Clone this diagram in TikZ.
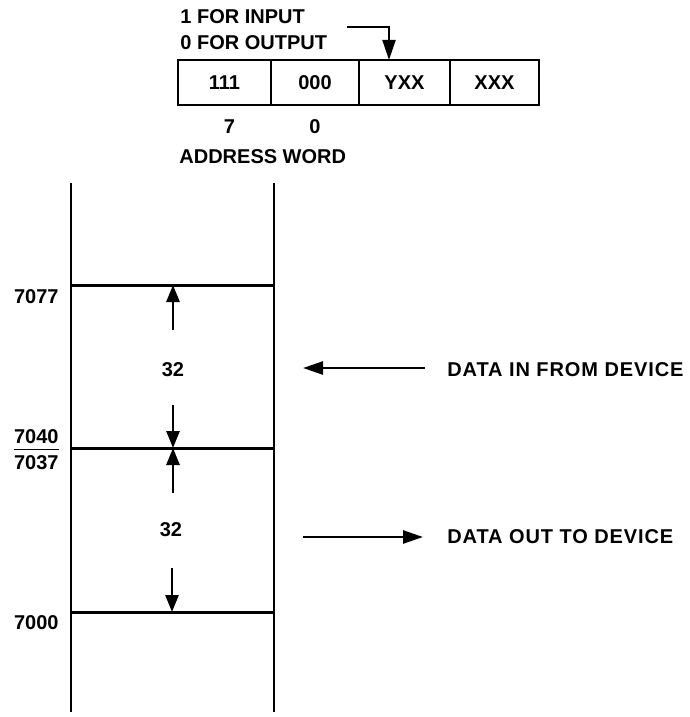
\documentclass[tikz,border=0pt]{standalone}
\usepackage{fontspec}
\setmainfont{Liberation Sans}
\usepackage{tikz}
\usetikzlibrary{arrows.meta, positioning}
\tikzset{
  cell/.style={
    draw,
    line width=1pt,
    minimum height=22.5pt,
    inner sep=0pt,
    outer sep=0pt,
    font=\fontsize{10}{12}\selectfont\bfseries
  },
  lbl/.style={inner sep=0pt, font=\fontsize{10}{12}\selectfont\bfseries},
  devlbl/.style={lbl, font=\fontsize{10}{12}\selectfont\bfseries\addfontfeature{LetterSpace=4.5}},
  wall/.style={line width=1.3pt},
  rung/.style={line width=1.5pt},
  arr/.style={-{Triangle[length=8.5pt,width=6.5pt]}, line width=1.4pt},
  arrdev/.style={-{Triangle[length=10pt,width=6.5pt]}, line width=1.3pt},
  arrthin/.style={-{Triangle[length=10pt,width=6.5pt]}, line width=1pt}
}

\begin{document}
\begin{tikzpicture}[x=0.5pt, y=-0.5pt]
\useasboundingbox (0,0) rectangle (690,717);

% Address word
\node[cell, minimum width=46.5pt] (c1) at (224.5,82.5) {111};
\node[cell, minimum width=44pt, right=0pt of c1] (c2) {000};
\node[cell, minimum width=45.5pt, right=0pt of c2] (c3) {YXX};
\node[cell, minimum width=44.5pt, right=0pt of c3] (c4) {XXX};

\node[lbl, anchor=west] (forin) at (180,17) {1 FOR INPUT};
\node[lbl, anchor=west] (forout) at (180,43) {0 FOR OUTPUT};
\coordinate (bitsrc) at (347,27);
\draw[arrthin] (bitsrc) -| ([xshift=-7.75pt]c3.north);

\node[lbl, below=7pt of c1, xshift=2.5pt] (b7) {7};
\node[lbl, below=7pt of c2] (b0) {0};
\node[lbl, anchor=west] (aword) at (179,157) {ADDRESS WORD};

% Memory column
\coordinate (lt) at (71,183);
\coordinate (lb) at (71,712);
\coordinate (rt) at (274,183);
\coordinate (rb) at (274,712);
\draw[wall] (lt) -- (lb);
\draw[wall] (rt) -- (rb);

\coordinate (hiL) at (71,285);   \coordinate (hiR) at (274,285);
\coordinate (midL) at (71,448);  \coordinate (midR) at (274,448);
\coordinate (loL) at (71,612);   \coordinate (loR) at (274,612);
\draw[rung] (hiL) -- (hiR);
\draw[rung] (midL) -- (midR);
\draw[rung] (loL) -- (loR);

\node[lbl, anchor=east] (a7077) at (59,297) {7077};
\node[lbl, anchor=east] (a7040) at (59,437) {7040};
\node[lbl, anchor=east] (a7037) at (59,463) {7037};
\node[lbl, anchor=east] (a7000) at (59,623) {7000};
\draw[line width=0.4pt] ([yshift=-2.5pt]a7040.south west) -- ([yshift=-2.5pt]a7040.south east);

% Upper block
\node[lbl] (n32a) at (173,370) {32};
\coordinate (ua) at (173,330);
\coordinate (da) at (173,405);
\draw[arr] (ua) -- (hiL -| ua);
\draw[arr] (da) -- (midL -| da);

% Lower block
\node[lbl] (n32b) at (171,530) {32};
\coordinate (ub) at (173,493);
\coordinate (db) at (172,568);
\draw[arr] (ub) -- (midL -| ub);
\draw[arr] (db) -- (loL -| db);

% Device transfers
\node[devlbl, anchor=west] (datain) at (447,370) {DATA IN FROM DEVICE};
\node[devlbl, anchor=west] (dataout) at (447,537) {DATA OUT TO DEVICE};
\coordinate (inend) at (303,368);
\coordinate (outbeg) at (303,537);
\draw[arrdev] ([xshift=-11pt]datain.west |- inend) -- (inend);
\draw[arrdev] (outbeg) -- ([xshift=-12pt]dataout.west);

\end{tikzpicture}
\end{document}
